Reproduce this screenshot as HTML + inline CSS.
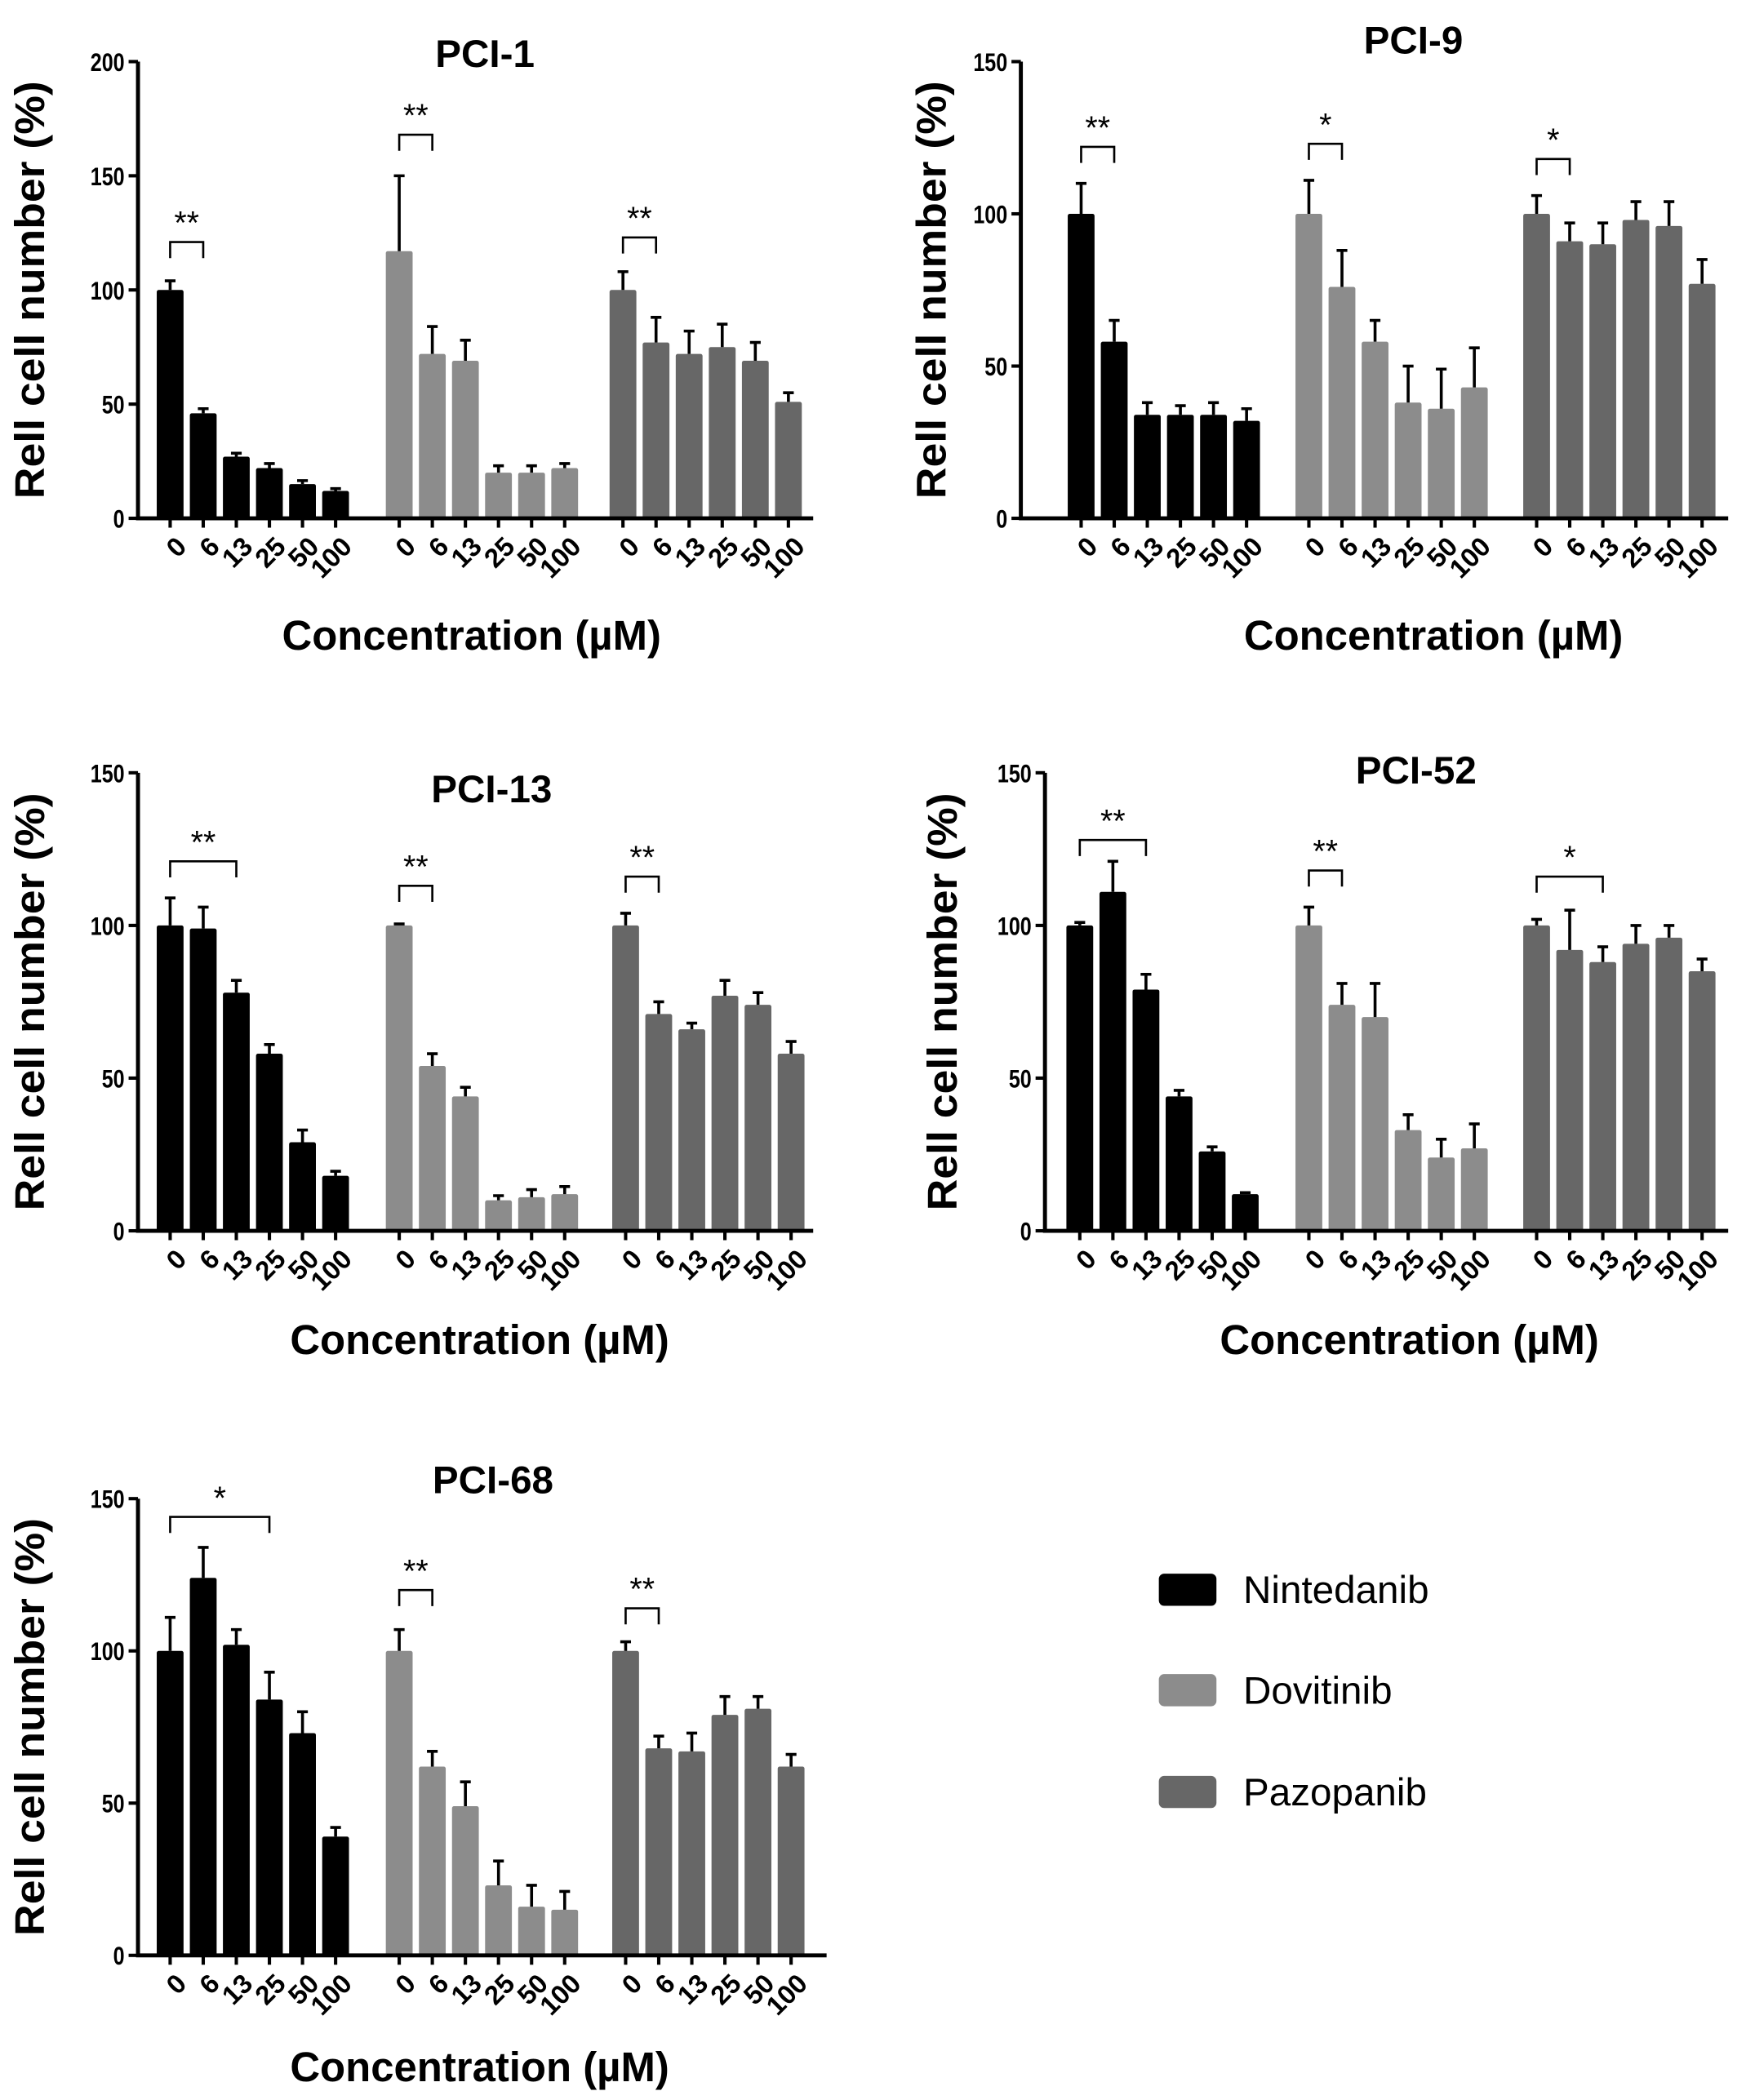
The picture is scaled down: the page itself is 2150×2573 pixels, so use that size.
<!DOCTYPE html>
<html><head><meta charset="utf-8"><style>
html,body{margin:0;padding:0;background:#fff;}
svg{display:block;}
text{font-family:"Liberation Sans",Arial,sans-serif;}
</style></head><body>
<svg id="fig" width="2150" height="2573" viewBox="0 0 1310 1568" preserveAspectRatio="none" xmlns="http://www.w3.org/2000/svg"></svg>
<script>
const concentrations = ["0","6","13","25","50","100"];
const drugs = ["Nintedanib","Dovitinib","Pazopanib"];
const pci1Means = [[100,46,27,22,15,12],[117,72,69,20,20,22],[100,77,72,75,69,51]];
const pci1Err = [[4,2,1.5,2,1.5,1],[33,12,9,3,3,2],[8,11,10,10,8,4]];
const pci9Means = [[100,58,34,34,34,32],[100,76,58,38,36,43],[100,91,90,98,96,77]];
const pci9Err = [[10,7,4,3,4,4],[11,12,7,12,13,13],[6,6,7,6,8,8]];
const pci13Means = [[100,99,78,58,29,18],[100,54,44,10,11,12],[100,71,66,77,74,58]];
const pci13Err = [[9,7,4,3,4,1.5],[0.5,4,3,1.5,2.5,2.5],[4,4,2,5,4,4]];
const pci52Means = [[100,111,79,44,26,12],[100,74,70,33,24,27],[100,92,88,94,96,85]];
const pci52Err = [[1,10,5,2,1.5,0.5],[6,7,11,5,6,8],[2,13,5,6,4,4]];
const pci68Means = [[100,124,102,84,73,39],[100,62,49,23,16,15],[100,68,67,79,81,62]];
const pci68Err = [[11,10,5,9,7,3],[7,5,8,8,7,6],[3,4,6,6,4,4]];
const yTicks1 = [0,50,100,150,200];
const yTicks2 = [0,50,100,150];
// significance: [group, fromBar, toBar, value, label]
const pci1Sig = [[0,0,1,121,"**"],[1,0,1,168,"**"],[2,0,1,123,"**"]];
const pci9Sig = [[0,0,1,122,"**"],[1,0,1,123,"*"],[2,0,1,118,"*"]];
const pci13Sig = [[0,0,2,121,"**"],[1,0,1,113,"**"],[2,0,1,116,"**"]];
const pci52Sig = [[0,0,2,128,"**"],[1,0,1,118,"**"],[2,0,2,116,"*"]];
const pci68Sig = [[0,0,3,144,"*"],[1,0,1,120,"**"],[2,0,1,114,"**"]];

const colors = ["#000000","#8c8c8c","#676767"];
const NS="http://www.w3.org/2000/svg";
const svg=document.getElementById('fig');
function mk(tag,attrs,parent,txt){const e=document.createElementNS(NS,tag);for(const k in attrs)e.setAttribute(k,attrs[k]);if(txt!==undefined)e.textContent=txt;(parent||svg).appendChild(e);return e;}

const panels=[
 {name:"PCI-1",means:pci1Means,err:pci1Err,sig:pci1Sig,ticks:yTicks1,ymax:200,ax:103,yTop:46,yBot:387,xEnd:607,groups:[117,288,455],tx:362,ty:50,xtx:352,xty:485,ytx:33},
 {name:"PCI-9",means:pci9Means,err:pci9Err,sig:pci9Sig,ticks:yTicks2,ymax:150,ax:762,yTop:46,yBot:387,xEnd:1290,groups:[797,967,1137],tx:1055,ty:40,xtx:1070,xty:485,ytx:706},
 {name:"PCI-13",means:pci13Means,err:pci13Err,sig:pci13Sig,ticks:yTicks2,ymax:150,ax:103,yTop:577,yBot:919,xEnd:607,groups:[117,288,457],tx:367,ty:599,xtx:358,xty:1011,ytx:33},
 {name:"PCI-52",means:pci52Means,err:pci52Err,sig:pci52Sig,ticks:yTicks2,ymax:150,ax:780,yTop:577,yBot:919,xEnd:1290,groups:[796,967,1137],tx:1057,ty:585,xtx:1052,xty:1011,ytx:714},
 {name:"PCI-68",means:pci68Means,err:pci68Err,sig:pci68Sig,ticks:yTicks2,ymax:150,ax:103,yTop:1119,yBot:1460,xEnd:617,groups:[117,288,457],tx:368,ty:1115,xtx:358,xty:1554,ytx:33}
];
const BW=20, PITCH=24.7;
panels.forEach(p=>{
  const g=mk('g',{});
  
  
  const y=v=>p.yBot-(v/p.ymax)*(p.yBot-p.yTop);
  const bx=(gi,bi)=>p.groups[gi]+bi*PITCH;
  p.means.forEach((arr,gi)=>arr.forEach((v,bi)=>{
    const x=bx(gi,bi), top=y(v), e=y(v+p.err[gi][bi]);
    const r=mk('rect',{x:x,y:top,width:BW,height:p.yBot-top,fill:colors[gi],rx:1.5},g);
    
    
    const cx=x+BW/2;
    const l=mk('path',{d:`M${cx},${top} V${e} M${cx-4},${e} H${cx+4}`,stroke:'#000','stroke-width':2.2,fill:'none'},g);
    
    
    mk('line',{x1:cx,y1:p.yBot,x2:cx,y2:p.yBot+7,stroke:'#000','stroke-width':2.5},g);
    const t=mk('text',{x:0,y:0,transform:`translate(${cx+3},${p.yBot+12}) rotate(-45)`,'text-anchor':'end','font-size':20,'font-weight':'bold','dominant-baseline':'hanging'},g,concentrations[bi]);
    
    
  }));
  const ax=mk('path',{d:`M${p.ax},${p.yTop} V${p.yBot} H${p.xEnd}`,stroke:'#000','stroke-width':3,fill:'none'},g);
  
  
  p.ticks.forEach(tv=>{
    mk('line',{x1:p.ax-7,y1:y(tv),x2:p.ax,y2:y(tv),stroke:'#000','stroke-width':2.5},g);
    const s=String(tv);
    const t=mk('text',{x:p.ax-10,y:y(tv)+7,'text-anchor':'end','font-size':19,'font-weight':'bold','textLength':s.length*8.5,'lengthAdjust':'spacingAndGlyphs'},g,s);
    
    
  });
  p.sig.forEach(s=>{
    const x1=bx(s[0],s[1])+BW/2, x2=bx(s[0],s[2])+BW/2, yy=y(s[3]);
    const b=mk('path',{d:`M${x1},${yy+12} V${yy} H${x2} V${yy+12}`,stroke:'#000','stroke-width':1.6,fill:'none'},g);
    
    
    const t=mk('text',{x:(x1+x2)/2,y:yy-6,'text-anchor':'middle','font-size':24},g,s[4]);
    
    
  });
  const tt=mk('text',{x:p.tx,y:p.ty,'text-anchor':'middle','font-size':29,'font-weight':'bold'},g,p.name);
  
  
  const xt=mk('text',{x:p.xtx,y:p.xty,'text-anchor':'middle','font-size':31,'font-weight':'bold'},g,'Concentration (µM)');
  
  
  const cy=(p.yTop+p.yBot)/2;
  const yt=mk('text',{x:0,y:0,transform:`translate(${p.ytx},${cy}) rotate(-90)`,'text-anchor':'middle','font-size':31,'font-weight':'bold','textLength':312,'lengthAdjust':'spacingAndGlyphs'},g,'Rell cell number (%)');
  
  
});
const lg=mk('g',{});


const legY=[1175,1250,1326];
drugs.forEach((d,i)=>{
  const r=mk('rect',{x:865,y:legY[i],width:43,height:24,rx:4,fill:colors[i]},lg);
  
  
  const t=mk('text',{x:928,y:legY[i]+22,'font-size':29},lg,d);
  
  
});
</script>
</body></html>
